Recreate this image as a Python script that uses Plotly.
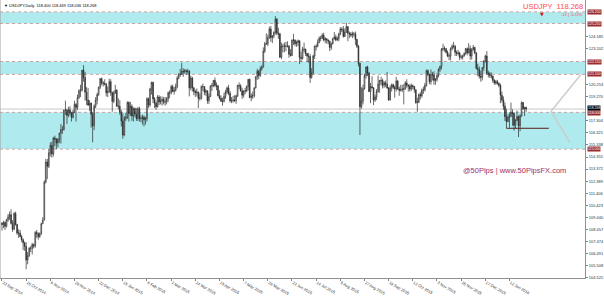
import plotly.graph_objects as go

# ---------------- data (USDJPY daily, 23 Sep 2014 .. 27 Jan 2016) ----------------
open_ = [
    # Sep 2014
    108.95,108.85,109.00,108.70,109.25,109.45,
    # Oct 2014
    109.65,108.95,108.45,109.75,108.85,108.15,108.15,107.85,107.60,107.35,107.05,105.95,106.30,106.90,106.90,107.20,107.10,108.20,108.10,107.85,108.10,108.90,109.20,
    # Nov 2014
    112.30,113.95,113.60,114.70,115.30,114.60,115.90,115.80,115.50,115.80,116.30,116.60,116.60,118.20,118.20,117.75,118.20,117.95,117.60,118.00,
    # Dec 2014
    118.65,118.40,119.20,119.75,119.80,121.45,120.85,119.65,119.00,118.60,118.75,117.85,116.90,118.50,119.00,119.45,120.05,120.75,120.40,120.35,120.30,119.60,
    # Jan 2015
    119.70,120.50,119.60,118.90,119.60,119.80,118.50,118.50,118.00,117.30,116.15,117.50,117.60,118.80,117.90,118.50,117.70,118.30,117.85,117.50,118.30,
    # Feb 2015
    117.50,117.50,117.60,117.40,117.50,119.10,118.60,119.90,120.45,119.10,118.75,118.45,119.25,118.85,118.95,119.05,118.85,118.85,119.10,119.60,
    # Mar 2015
    119.60,120.10,119.70,119.80,120.10,120.80,121.10,121.10,121.35,121.30,121.40,121.35,121.35,120.00,120.80,120.00,119.70,119.60,119.65,119.15,119.15,120.10,
    # Apr 2015
    120.10,119.65,119.75,118.95,119.30,120.15,120.20,120.60,120.20,120.15,119.35,119.15,118.90,118.90,119.30,119.65,120.00,119.55,118.95,118.95,119.00,118.95,
    # May 2015
    119.35,120.20,120.15,119.75,119.40,119.75,119.75,120.10,120.70,119.20,119.35,119.35,120.00,120.90,121.35,121.00,121.55,121.70,123.00,123.60,123.60,
    # Jun 2015
    124.10,124.80,124.10,124.25,124.55,125.60,124.45,124.40,122.50,123.40,123.40,123.40,123.40,123.40,122.75,122.65,123.90,123.90,123.60,123.70,123.85,122.50,
    # Jul 2015
    122.40,123.15,123.15,122.80,122.60,122.55,120.85,121.20,122.60,123.40,123.40,123.70,124.05,124.05,124.30,123.90,124.00,123.90,123.80,123.30,123.60,124.00,124.15,
    # Aug 2015
    123.90,124.00,124.40,124.80,124.75,124.20,124.55,125.00,124.45,124.40,124.30,124.40,124.40,123.95,123.40,122.00,118.45,118.90,119.95,121.00,121.70,
    # Sep 2015
    121.20,119.70,120.10,120.00,119.00,119.25,119.70,120.30,120.60,120.60,120.20,120.40,120.30,120.00,119.00,120.00,120.25,120.05,119.90,120.55,119.90,119.80,
    # Oct 2015
    119.85,119.90,119.90,120.40,120.20,120.15,119.90,120.20,120.10,119.85,118.80,118.85,119.45,119.35,119.80,119.85,120.20,121.40,121.10,120.50,121.10,121.05,
    # Nov 2015
    120.60,120.70,121.00,121.50,121.75,123.15,123.20,123.20,122.90,122.60,122.60,123.20,123.40,123.40,122.90,122.80,122.85,122.50,122.50,122.60,122.80,
    # Dec 2015
    123.20,122.85,123.20,122.60,123.10,123.30,122.85,121.60,121.50,120.95,120.85,121.65,122.20,122.60,121.20,121.15,121.00,120.95,120.60,120.40,120.50,120.35,
    # Jan 2016
    120.20,119.40,119.00,118.50,117.65,117.25,117.60,117.70,118.00,117.90,116.95,117.35,117.65,116.90,117.70,118.80,118.30,118.400,
]
high = [
    109.05,109.15,109.10,109.30,109.70,109.90,
    110.09,109.20,109.85,109.90,108.90,108.45,108.40,108.00,107.70,107.45,107.40,106.60,107.00,107.10,107.35,107.30,108.30,108.40,108.20,108.20,109.00,109.45,112.45,
    114.20,114.20,115.00,115.55,115.60,116.00,116.10,115.90,115.90,116.35,117.05,116.90,118.20,118.95,118.25,118.45,118.50,118.05,118.20,118.95,
    118.75,119.45,119.90,120.25,121.45,121.85,121.30,120.05,120.00,119.00,118.80,118.00,118.65,119.25,119.60,120.10,120.80,120.85,120.55,120.70,120.40,120.10,
    120.75,120.70,119.70,119.75,120.25,119.90,119.15,119.00,118.20,117.90,117.70,117.95,118.90,118.90,118.85,118.65,118.40,118.40,118.35,118.45,118.45,
    117.75,117.80,117.75,117.65,119.25,119.20,120.00,120.50,120.50,119.25,118.90,119.40,119.40,119.30,119.30,119.25,119.25,119.25,119.70,119.80,
    120.25,120.25,120.05,120.35,120.95,121.20,121.55,122.05,121.60,121.55,121.50,121.55,121.45,121.00,120.90,120.05,119.85,119.95,119.70,119.55,120.20,120.35,
    120.10,119.90,119.80,119.55,120.20,120.40,120.65,120.85,120.45,120.25,119.80,119.40,119.20,119.60,119.85,120.10,120.25,119.75,119.25,119.35,119.40,119.45,
    120.25,120.45,120.30,120.00,119.80,120.00,120.20,120.70,120.75,119.55,119.70,120.05,120.95,121.55,121.45,121.75,121.85,123.30,123.75,124.45,124.35,
    125.00,125.05,124.30,124.60,125.85,125.70,124.90,124.50,123.70,123.60,123.70,123.75,123.80,123.50,123.15,123.95,124.40,123.95,123.85,123.95,123.85,122.95,
    123.35,123.70,123.20,122.85,122.85,122.75,121.60,122.70,123.45,123.55,123.95,124.20,124.25,124.45,124.50,124.15,124.05,123.95,123.85,123.70,124.10,124.55,124.35,
    124.20,124.50,124.95,124.95,125.05,124.85,125.30,125.00,124.60,124.55,124.60,124.55,124.60,124.00,123.50,122.05,120.05,120.25,121.15,121.75,121.80,
    121.30,120.40,120.95,120.05,119.45,119.90,121.00,120.65,120.90,120.75,120.55,120.60,121.30,120.05,120.20,120.35,120.35,120.20,120.90,120.65,120.10,120.25,
    120.25,120.30,120.55,120.70,120.30,120.30,120.35,120.25,120.15,119.85,119.20,119.55,119.65,119.95,120.10,120.40,121.50,121.50,121.15,121.50,121.30,121.35,
    120.80,121.20,121.60,121.80,123.25,123.60,123.40,123.25,123.05,122.80,123.30,123.55,123.75,123.50,123.05,123.10,122.95,122.70,122.70,122.90,123.25,
    123.30,123.65,123.45,123.25,123.50,123.35,122.90,121.95,121.75,121.40,121.70,122.25,122.70,123.00,121.40,121.30,121.25,121.00,120.70,120.65,120.65,120.45,
    120.35,119.70,119.30,118.80,118.30,117.85,118.00,118.80,118.25,118.00,117.45,118.15,117.75,117.85,118.90,118.85,118.45,118.469,
]
low = [
    108.35,108.55,108.40,108.60,109.05,109.20,
    108.85,108.25,108.40,108.75,108.00,107.75,107.85,107.40,106.75,106.70,105.20,105.60,106.20,106.60,106.40,106.90,106.95,107.75,107.60,107.75,108.00,108.90,109.20,
    112.20,112.55,113.45,114.40,114.30,114.40,115.25,115.00,115.15,115.50,115.45,116.25,116.50,117.80,117.05,117.60,117.75,117.25,117.50,117.95,
    117.25,118.20,119.10,119.25,119.70,120.50,118.95,118.60,118.50,118.10,116.75,115.55,116.55,118.35,118.65,119.35,119.90,120.20,120.10,120.20,119.30,119.25,
    119.60,119.35,118.05,118.75,119.50,118.45,118.25,117.80,116.85,115.85,116.05,117.30,117.45,117.25,117.70,117.30,117.25,117.60,117.30,117.30,117.25,
    117.20,117.00,116.85,117.00,117.25,118.35,118.45,119.45,118.75,118.35,118.20,118.40,118.60,118.65,118.55,118.65,118.55,118.65,118.85,119.15,
    119.45,119.65,119.45,119.70,119.95,120.70,120.90,121.05,120.90,121.15,121.05,121.15,119.30,119.80,119.70,119.40,119.25,119.30,118.35,118.95,119.05,119.75,
    119.40,119.35,118.70,118.70,119.25,119.75,120.05,120.05,119.80,119.30,119.05,118.85,118.55,118.80,119.10,119.50,119.40,118.80,118.75,118.80,118.85,118.70,
    119.25,119.90,119.70,119.10,119.20,119.50,119.65,119.80,119.20,118.90,119.10,119.20,119.95,120.65,120.70,120.90,121.40,121.65,122.85,123.50,123.40,
    124.00,123.75,123.65,124.05,124.35,124.30,124.00,122.45,122.35,122.90,122.90,123.00,123.30,122.45,122.55,122.60,123.50,123.40,123.35,123.40,121.95,122.10,
    122.30,122.90,122.60,122.10,122.05,120.40,120.75,121.10,122.35,123.05,123.30,123.65,123.80,124.00,123.80,123.65,123.60,123.55,123.00,123.10,123.55,123.95,123.80,
    123.85,123.80,124.30,124.55,124.10,124.15,124.50,123.80,124.05,124.15,124.05,124.15,123.50,123.25,121.75,116.15,118.30,118.65,119.85,120.75,120.95,
    119.65,118.75,119.95,118.60,118.85,119.00,119.60,119.60,120.20,119.95,120.00,120.05,119.90,118.95,119.00,119.70,119.90,119.20,119.70,119.85,119.35,119.70,
    119.65,118.65,119.85,120.00,119.70,119.70,119.75,119.90,119.60,118.70,118.05,118.75,119.05,119.20,119.50,119.70,120.10,120.95,120.30,120.25,120.60,120.25,
    120.25,120.50,120.85,121.30,121.50,123.00,122.95,122.80,122.50,122.25,122.25,123.05,123.20,122.60,122.60,122.65,122.25,122.35,122.30,122.55,122.70,
    122.65,122.80,122.30,122.30,123.05,122.75,121.50,120.95,120.75,120.50,120.60,121.40,122.05,121.05,120.85,120.80,120.75,120.40,120.25,120.25,120.25,120.05,
    118.75,118.80,118.20,117.30,116.70,117.20,116.75,117.60,116.90,116.50,116.70,117.30,115.98,116.45,117.65,118.20,117.70,118.036,
]
close = [
    108.85,109.00,108.70,109.25,109.45,109.65,
    108.95,108.45,109.75,108.85,108.15,108.15,107.85,107.60,107.35,107.05,105.95,106.30,106.90,106.90,107.20,107.10,108.20,108.10,107.85,108.10,108.90,109.20,112.30,
    113.95,113.60,114.70,115.30,114.60,115.90,115.80,115.50,115.80,116.30,116.60,116.60,118.20,118.20,117.75,118.20,117.95,117.60,118.00,118.65,
    118.40,119.20,119.75,119.80,121.45,120.85,119.65,119.00,118.60,118.75,117.85,116.90,118.50,119.00,119.45,120.05,120.75,120.40,120.35,120.30,119.60,119.70,
    120.50,119.60,118.90,119.60,119.80,118.50,118.50,118.00,117.30,116.15,117.50,117.60,118.80,117.90,118.50,117.70,118.30,117.85,117.50,118.30,117.50,
    117.50,117.60,117.40,117.50,119.10,118.60,119.90,120.45,119.10,118.75,118.45,119.25,118.85,118.95,119.05,118.85,118.85,119.10,119.60,119.60,
    120.10,119.70,119.80,120.10,120.80,121.10,121.10,121.35,121.30,121.40,121.35,121.35,120.00,120.80,120.00,119.70,119.60,119.65,119.15,119.15,120.10,120.10,
    119.65,119.75,118.95,119.30,120.15,120.20,120.60,120.20,120.15,119.35,119.15,118.90,118.90,119.30,119.65,120.00,119.55,118.95,118.95,119.00,118.95,119.35,
    120.20,120.15,119.75,119.40,119.75,119.75,120.10,120.70,119.20,119.35,119.35,120.00,120.90,121.35,121.00,121.55,121.70,123.00,123.60,123.60,124.10,
    124.80,124.10,124.25,124.55,125.60,124.45,124.40,122.50,123.40,123.40,123.40,123.40,123.40,122.75,122.65,123.90,123.90,123.60,123.70,123.85,122.50,122.40,
    123.15,123.15,122.80,122.60,122.55,120.85,121.20,122.60,123.40,123.40,123.70,124.05,124.05,124.30,123.90,124.00,123.90,123.80,123.30,123.60,124.00,124.15,123.90,
    124.00,124.40,124.80,124.75,124.20,124.55,125.00,124.45,124.40,124.30,124.40,124.40,123.95,123.40,122.00,118.45,118.90,119.95,121.00,121.70,121.20,
    119.70,120.10,120.00,119.00,119.25,119.70,120.30,120.60,120.60,120.20,120.40,120.30,120.00,119.00,120.00,120.25,120.05,119.90,120.55,119.90,119.80,119.85,
    119.90,119.90,120.40,120.20,120.15,119.90,120.20,120.10,119.85,118.80,118.85,119.45,119.35,119.80,119.85,120.20,121.40,121.10,120.50,121.10,121.05,120.60,
    120.70,121.00,121.50,121.75,123.15,123.20,123.20,122.90,122.60,122.60,123.20,123.40,123.40,122.90,122.80,122.85,122.50,122.50,122.60,122.80,123.20,
    122.85,123.20,122.60,123.10,123.30,122.85,121.60,121.50,120.95,120.85,121.65,122.20,122.60,121.20,121.15,121.00,120.95,120.60,120.40,120.50,120.35,120.20,
    119.40,119.00,118.50,117.65,117.25,117.60,117.70,118.00,117.90,116.95,117.35,117.65,116.90,117.70,118.80,118.30,118.40,118.268,
]

# x-axis labels, one every 16 bars
date_labels = ["23 Sep 2014", "15 Oct 2014", "6 Nov 2014", "28 Nov 2014", "22 Dec 2014",
               "15 Jan 2015", "6 Feb 2015", "2 Mar 2015", "24 Mar 2015", "15 Apr 2015",
               "7 May 2015", "29 May 2015", "22 Jun 2015", "14 Jul 2015", "5 Aug 2015",
               "27 Aug 2015", "18 Sep 2015", "12 Oct 2015", "3 Nov 2015", "25 Nov 2015",
               "17 Dec 2015", "12 Jan 2016"]
label_step = 16

# price-axis ticks
price_ticks = [104.525, 105.508, 106.491, 107.474, 108.457, 109.440, 110.423, 111.406,
               112.389, 113.372, 114.355, 115.338, 116.321, 117.304, 119.270, 120.253,
               123.202, 124.185]

# supply / demand zones (top, bottom)
zones = [(126.20, 125.25), (122.15, 121.10), (118.00, 115.00)]
support_level = 116.70
support_from, support_to = 334, 362

symbol = "USDJPY"
change_pips = -13
change_pct = -0.11

# ---------------- figure ----------------
x = list(range(len(close)))
fig = go.Figure()
fig.add_trace(go.Candlestick(
    x=x, open=open_, high=high, low=low, close=close,
    increasing=dict(line=dict(color="#2A2A2A", width=0.7), fillcolor="#FFFFFF"),
    decreasing=dict(line=dict(color="#2A2A2A", width=0.7), fillcolor="#2A2A2A"),
    whiskerwidth=0, hoverinfo="skip", showlegend=False))

shapes = []
for top, bot in zones:
    shapes.append(dict(type="rect", xref="paper", yref="y", x0=0, x1=1, y0=bot, y1=top,
                       fillcolor="#AFEBEE", line=dict(width=0), layer="below"))
    for lv in (top, bot):
        shapes.append(dict(type="line", xref="paper", yref="y", x0=0, x1=1, y0=lv, y1=lv,
                           line=dict(color="#C9A3A3", width=1, dash="dot"), layer="below"))
# current price line
shapes.append(dict(type="line", xref="paper", yref="y", x0=0, x1=1, y0=close[-1], y1=close[-1],
                   line=dict(color="#C8C8C8", width=1), layer="below"))
# support line from the January low
shapes.append(dict(type="line", xref="x", yref="y", x0=support_from, x1=support_to,
                   y0=support_level, y1=support_level, line=dict(color="#5A1A1A", width=1)))
# left border
shapes.append(dict(type="line", xref="paper", yref="paper", x0=0, x1=0, y0=0, y1=1,
                   line=dict(color="#A0A0A0", width=1)))
# chevron drawing on the right
shapes.append(dict(type="path", xref="paper", yref="paper",
                   path="M 0.993 0.732 L 0.942 0.600 L 0.974 0.488",
                   line=dict(color="#CCCCCC", width=1.5)))

annotations = []
box_levels = [lv for z in zones for lv in z]
for lv in box_levels:
    annotations.append(dict(x=1, xref="paper", xanchor="left", xshift=2, y=lv, yref="y",
                            yshift=-1 if lv == 118.00 else 0,
                            text=f"{lv:.3f}", showarrow=False, bgcolor="#9B2B2B",
                            font=dict(size=3.5, color="#FFFFFF", family="Liberation Sans"),
                            borderpad=0))
annotations.append(dict(x=1, xref="paper", xanchor="left", xshift=2, y=close[-1], yref="y",
                        yshift=1.5,
                        text=f"{close[-1]:.3f}", showarrow=False, bgcolor="#000000",
                        font=dict(size=3.5, color="#FFFFFF", family="Liberation Sans"),
                        borderpad=0))
annotations.append(dict(x=0, xref="paper", xanchor="left", xshift=2, y=1, yref="paper",
                        yanchor="top", yshift=-1,
                        text=f"▼ {symbol},Daily  {open_[-1]:.3f} {high[-1]:.3f} {low[-1]:.3f} {close[-1]:.3f}",
                        showarrow=False, font=dict(size=4, color="#000000", family="Liberation Sans")))
annotations.append(dict(x=1, xref="paper", xanchor="right", y=1, yref="paper", yanchor="top",
                        yshift=0, text=f"{symbol}  {close[-1]:.3f}", showarrow=False,
                        font=dict(size=7.5, color="#FF4A4A", family="Liberation Sans")))
annotations.append(dict(x=1, xref="paper", xanchor="right", y=1, yref="paper", yanchor="top",
                        yshift=-10, text=f"{change_pips} | {change_pct:.2f}%", showarrow=False,
                        font=dict(size=4, color="#FF4A4A", family="Liberation Sans")))
annotations.append(dict(x=0.927, xref="paper", xanchor="center", y=1, yref="paper", yanchor="top",
                        yshift=-9, text="▼", showarrow=False,
                        font=dict(size=5, color="#E01010", family="DejaVu Sans")))
annotations.append(dict(x=0.879, xref="paper", xanchor="center", y=0.387, yref="paper",
                        text="@50Pips | www.50PipsFX.com", showarrow=False,
                        font=dict(size=7.5, color="#A0305F", family="Liberation Sans")))

fig.update_layout(
    width=604, height=296,
    margin=dict(l=0, r=17, t=0, b=9),
    paper_bgcolor="#FFFFFF", plot_bgcolor="#FFFFFF",
    showlegend=False,
    shapes=shapes, annotations=annotations,
    xaxis=dict(range=[-1.32, 386.0], rangeslider=dict(visible=False), showgrid=False,
               zeroline=False, tickmode="array",
               tickvals=[label_step * k for k in range(len(date_labels))], ticktext=date_labels,
               ticks="outside", ticklen=2, tickcolor="#808080", tickwidth=1,
               ticklabelposition="outside right",
               tickfont=dict(size=4, color="#303030", family="Liberation Sans"),
               showline=True, linecolor="#909090", linewidth=1),
    yaxis=dict(range=[104.48, 127.17], side="right", showgrid=False, zeroline=False,
               tickmode="array", tickvals=price_ticks,
               ticktext=[f"{v:.3f}" for v in price_ticks],
               ticks="outside", ticklen=2, tickcolor="#808080", tickwidth=1,
               tickfont=dict(size=4, color="#303030", family="Liberation Sans"),
               showline=True, linecolor="#909090", linewidth=1),
)

fig.write_html("out.html")
